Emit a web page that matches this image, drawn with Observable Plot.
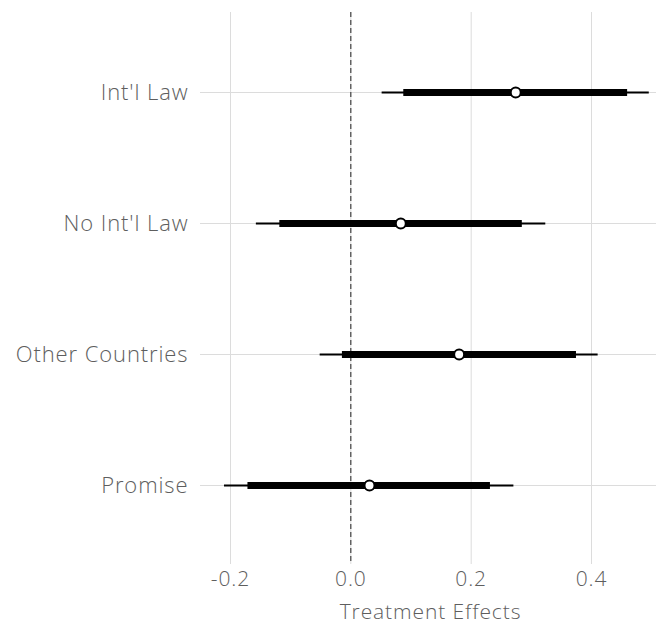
<!DOCTYPE html>
<html><head><meta charset="utf-8">
<script src="https://cdn.jsdelivr.net/npm/d3@7"></script>
<script src="https://cdn.jsdelivr.net/npm/@observablehq/plot@0.6"></script>
<style>
body{margin:0;background:#fff;}
svg{font-family:"Open Sans",sans-serif;}
svg text{font-weight:300;letter-spacing:0.9px;}
</style>
</head><body>
<div id="chart"></div>
<script>
const categories = ["Int'l Law", "No Int'l Law", "Other Countries", "Promise"];
const estimates = [0.274, 0.083, 0.180, 0.031];
const lower95 = [0.052, -0.157, -0.051, -0.210];
const upper95 = [0.496, 0.324, 0.411, 0.271];
const lower90 = [0.088, -0.118, -0.014, -0.171];
const upper90 = [0.460, 0.285, 0.375, 0.232];
const xTicks = [-0.2, 0.0, 0.2, 0.4];

const data = categories.map((c, i) => ({
  term: c, est: estimates[i], lo95: lower95[i], hi95: upper95[i], lo90: lower90[i], hi90: upper90[i]
}));

const chart = Plot.plot({
  width: 656,
  height: 623,
  marginLeft: 204,
  marginRight: 0,
  marginTop: 12,
  marginBottom: 59,
  style: {fontSize: "22px", color: "#5e5e5e", background: "#fff"},
  x: {
    domain: [-0.2432, 0.508],
    ticks: xTicks,
    tickFormat: d => d3.format(".1f")(d).replace("−", "-"),
    tickSize: 0,
    tickPadding: 7,
    label: "Treatment Effects",
    labelAnchor: "center",
    labelArrow: "none",
    labelOffset: 54
  },
  y: {
    type: "point",
    domain: categories,
    padding: 0.6,
    tickSize: 4,
    tickPadding: 12,
    label: null
  },
  marks: [
    Plot.gridX(xTicks, {stroke: "#dcdcdc", strokeOpacity: 1, strokeWidth: 1}),
    Plot.gridY(categories, {stroke: "#dcdcdc", strokeOpacity: 1, strokeWidth: 1}),
    Plot.ruleX([0], {stroke: "#222", strokeWidth: 1, strokeDasharray: "5,3"}),
    Plot.ruleY(data, {y: "term", x1: "lo95", x2: "hi95", stroke: "black", strokeWidth: 2}),
    Plot.ruleY(data, {y: "term", x1: "lo90", x2: "hi90", stroke: "black", strokeWidth: 7}),
    Plot.dot(data, {x: "est", y: "term", r: 5, fill: "white", stroke: "black", strokeWidth: 2})
  ]
});
document.getElementById("chart").appendChild(chart);
d3.select(chart).selectAll("[aria-label='y-axis tick'] path").attr("stroke", "#dcdcdc");
d3.select(chart).selectAll("[aria-label='x-axis tick label'] text").style("font-size", "21px");
d3.select(chart).selectAll("[aria-label='x-axis label'] text").style("font-size", "21px");
</script>
</body></html>
